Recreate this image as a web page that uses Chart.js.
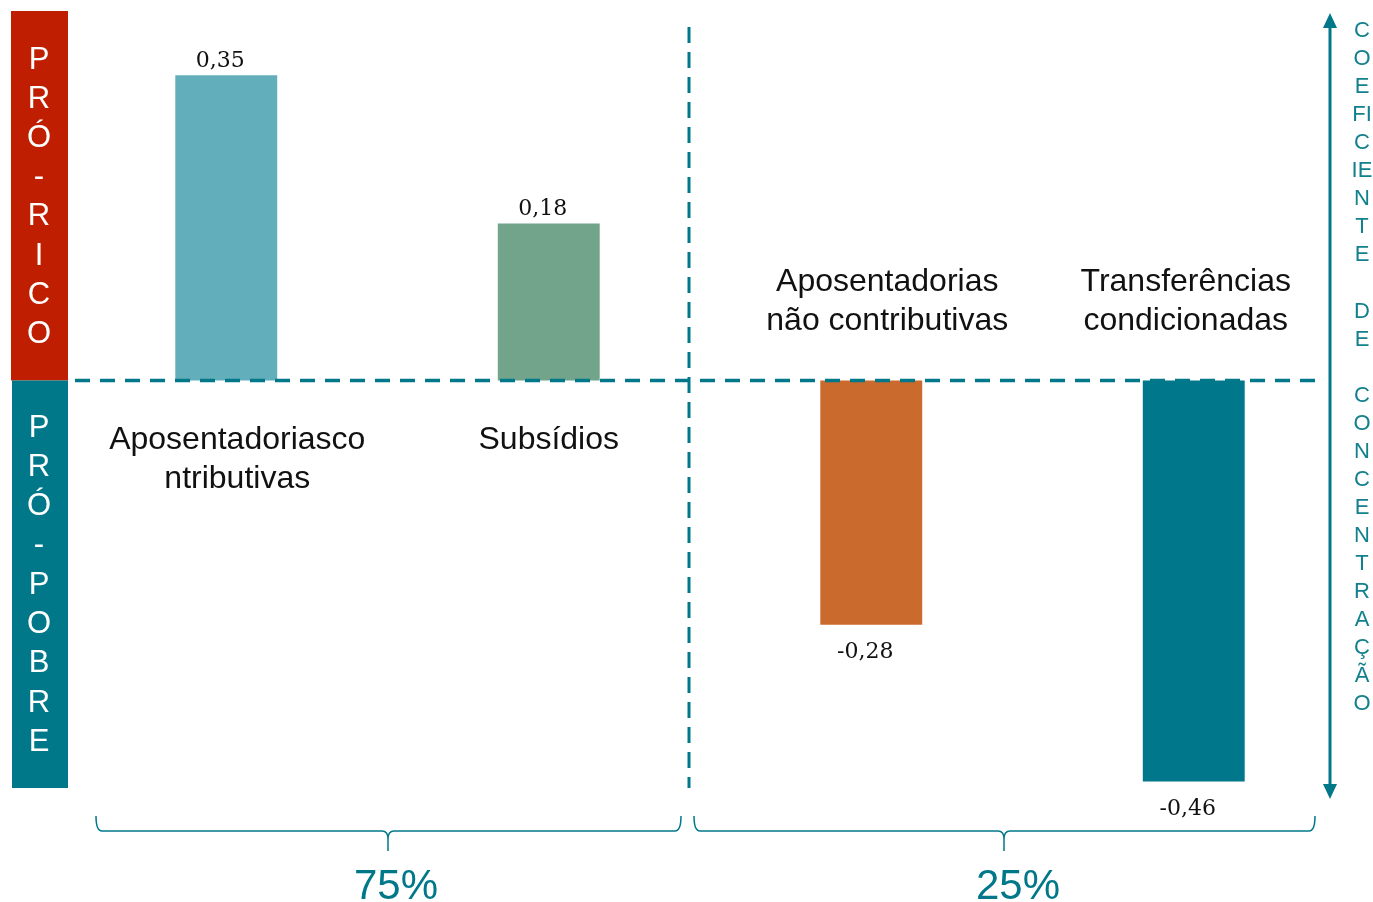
<!DOCTYPE html>
<html>
<head>
<meta charset="utf-8">
<script src="https://cdn.jsdelivr.net/npm/chart.js@4"></script>
<style>
  body { margin: 0; background: #fff; }
  #wrap { width: 1373px; height: 902px; position: relative; }
</style>
</head>
<body>
<div id="wrap"><canvas id="coefChart"></canvas></div>
<script>
// data
const categories = [
  ["Aposentadoriasco", "ntributivas"],
  ["Subsídios"],
  ["Aposentadorias", "não contributivas"],
  ["Transferências", "condicionadas"]
];
const coeficientes = [0.35, 0.18, -0.28, -0.46];
const barColors = ["#63aebb", "#72a48b", "#cb6a2d", "#00778a"];
const groupLabels = ["75%", "25%"];
const sideTop = "PRÓ-RICO";
const sideBottom = "PRÓ-POBRE";
const axisWords = ["C", "O", "E", "FI", "C", "IE", "N", "T", "E", "", "D", "E", "", "C", "O", "N", "C", "E", "N", "T", "R", "A", "Ç", "Ã", "O"];

const TEAL = "#00788a";

function brace(ctx, x1, x2, xm, yTop, yMid, yTip) {
  ctx.beginPath();
  ctx.moveTo(x1, yTop);
  ctx.quadraticCurveTo(x1, yMid, x1 + 6, yMid);
  ctx.lineTo(xm - 6, yMid);
  ctx.quadraticCurveTo(xm, yMid, xm, yMid + 8);
  ctx.lineTo(xm, yTip);
  ctx.moveTo(xm, yMid + 8);
  ctx.quadraticCurveTo(xm, yMid, xm + 6, yMid);
  ctx.lineTo(x2 - 6, yMid);
  ctx.quadraticCurveTo(x2, yMid, x2, yTop);
  ctx.stroke();
}

const decorations = {
  id: "decorations",
  afterDatasetsDraw(chart) {
    const ctx = chart.ctx;
    const y = chart.scales.y;
    const y0 = y.getPixelForValue(0);
    ctx.save();

    // side boxes
    ctx.fillStyle = "#bf1e00";
    ctx.fillRect(11, 11, 57, y0 - 11);
    ctx.fillStyle = TEAL;
    ctx.fillRect(12, y0, 56, 788 - y0);
    ctx.fillStyle = "#fff";
    ctx.font = "31px 'Liberation Sans', Arial, sans-serif";
    ctx.textAlign = "center";
    ctx.textBaseline = "middle";
    [...sideTop].forEach((c, i) => ctx.fillText(c, 39, 60 + i * 39.2));
    [...sideBottom].forEach((c, i) => ctx.fillText(c, 39, 428 + i * 39.3));

    // zero line
    ctx.strokeStyle = TEAL;
    ctx.lineWidth = 3.5;
    ctx.setLineDash([15, 10]);
    ctx.beginPath();
    ctx.moveTo(75, y0);
    ctx.lineTo(1318, y0);
    ctx.stroke();

    // vertical divider
    ctx.lineWidth = 3;
    ctx.setLineDash([16, 9]);
    ctx.beginPath();
    ctx.moveTo(689, 27);
    ctx.lineTo(689, 788);
    ctx.stroke();
    ctx.setLineDash([]);

    // double arrow
    ctx.lineWidth = 3;
    ctx.beginPath();
    ctx.moveTo(1330, 24);
    ctx.lineTo(1330, 788);
    ctx.stroke();
    ctx.fillStyle = TEAL;
    ctx.beginPath();
    ctx.moveTo(1330, 13); ctx.lineTo(1337, 28); ctx.lineTo(1323, 28); ctx.closePath(); ctx.fill();
    ctx.beginPath();
    ctx.moveTo(1330, 799); ctx.lineTo(1337, 784); ctx.lineTo(1323, 784); ctx.closePath(); ctx.fill();

    // stacked axis words
    ctx.fillStyle = "#13808d";
    ctx.font = "22px 'Liberation Sans', Arial, sans-serif";
    axisWords.forEach((w, i) => { if (w) ctx.fillText(w, 1362, 31 + i * 28.05); });

    // braces and shares
    ctx.strokeStyle = TEAL;
    ctx.lineWidth = 1.5;
    brace(ctx, 96, 681, 388, 816, 831, 851);
    brace(ctx, 694, 1315, 1004, 816, 831, 851);
    ctx.fillStyle = TEAL;
    ctx.font = "42px 'Liberation Sans', Arial, sans-serif";
    ctx.fillText(groupLabels[0], 396, 887);
    ctx.fillText(groupLabels[1], 1018, 887);

    // category labels and values
    const labelShift = [11, 0, 16, -8];
    chart.getDatasetMeta(0).data.forEach((bar, i) => {
      const v = coeficientes[i];
      const lines = categories[i];
      ctx.fillStyle = "#111";
      ctx.font = "32px 'Liberation Sans', Arial, sans-serif";
      lines.forEach((ln, k) => {
        const ly = v >= 0 ? y0 + 60 + k * 39 : y0 - 59 - (lines.length - 1 - k) * 39;
        ctx.fillText(ln, bar.x + labelShift[i], ly);
      });
      ctx.font = "22px 'DejaVu Serif', serif";
      const txt = v.toFixed(2).replace(".", ",");
      const ty = v >= 0 ? bar.y - 14 : bar.y + 28;
      ctx.fillText(txt, bar.x - 6, ty);
    });
    ctx.restore();
  }
};

new Chart(document.getElementById("coefChart"), {
  type: "bar",
  data: {
    labels: categories,
    datasets: [{
      data: coeficientes,
      backgroundColor: barColors,
      borderWidth: 0,
      barPercentage: 0.316,
      categoryPercentage: 1
    }]
  },
  options: {
    responsive: true,
    maintainAspectRatio: false,
    animation: false,
    layout: { padding: { left: 65, right: 18, top: 31.7, bottom: 85.5 } },
    plugins: { legend: { display: false }, tooltip: { enabled: false } },
    scales: {
      x: { display: false },
      y: { display: false, min: -0.5, max: 0.4 }
    }
  },
  plugins: [decorations]
});
</script>
</body>
</html>
